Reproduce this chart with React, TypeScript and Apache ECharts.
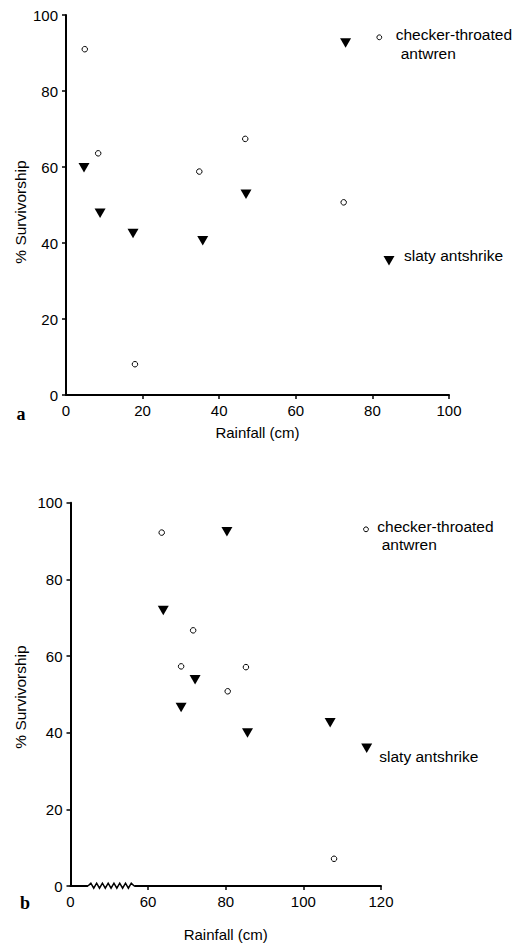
import React, { useEffect, useRef } from "react";
import * as echarts from "echarts";

// ---- data ----
const yTicks = [0, 20, 40, 60, 80, 100];
const xTicksA = [0, 20, 40, 60, 80, 100];
const xTicksB = [40, 60, 80, 100, 120]; // 40 is drawn as "0" across the axis break
const xTickLabelsB = ["0", "60", "80", "100", "120"];

const antwrenRainA = [4.9, 8.4, 18.0, 34.8, 46.8, 72.5];
const antwrenSurvA = [91.0, 63.6, 8.1, 58.8, 67.4, 50.7];
const antshrikeRainA = [4.7, 8.9, 17.5, 35.7, 47.0, 73.0];
const antshrikeSurvA = [59.8, 47.8, 42.5, 40.6, 52.8, 92.6];

const antwrenRainB = [63.5, 68.5, 71.6, 80.5, 85.2, 107.9];
const antwrenSurvB = [92.2, 57.3, 66.7, 50.8, 57.1, 7.1];
const antshrikeRainB = [63.9, 68.5, 72.1, 80.3, 85.6, 106.9];
const antshrikeSurvB = [71.9, 46.6, 53.8, 92.4, 39.9, 42.6];

const legendAntwren = ["checker-throated", "antwren"];
const legendAntshrike = "slaty antshrike";
const yTitle = "% Survivorship";
const xTitle = "Rainfall (cm)";

const FONT = '"Liberation Sans", Arial, sans-serif';
const INK = "#000";

const zip = (xs: number[], ys: number[]) => xs.map((x, i) => [x, ys[i]]);

export default function App() {
  const ref = useRef<HTMLDivElement>(null);

  useEffect(() => {
    if (!ref.current) return;
    const chart = echarts.init(ref.current, undefined, { renderer: "svg" });

    const axisLine = { show: true, lineStyle: { color: INK, width: 2 } };
    const axisTick = { show: true, length: 4, inside: false, lineStyle: { color: INK, width: 1.5 } };
    const axisLabel = { color: INK, fontFamily: FONT, fontSize: 15, margin: 8 };

    const yAxisBase = (gridIndex: number) => ({
      type: "value",
      gridIndex,
      min: yTicks[0],
      max: yTicks[yTicks.length - 1],
      interval: 20,
      splitLine: { show: false },
      axisLine,
      axisTick,
      axisLabel,
    });

    const circleStyle = {
      symbol: "circle",
      symbolSize: 5.5,
      itemStyle: { color: "#fff", borderColor: INK, borderWidth: 1, opacity: 1 },
    };
    const triStyle = {
      symbol: "triangle",
      symbolRotate: 180,
      symbolSize: [11, 9.5],
      itemStyle: { color: INK, opacity: 1 },
    };

    chart.setOption({
      animation: false,
      backgroundColor: "#fff",
      grid: [
        { left: 66, top: 15, width: 383, height: 380 },
        { left: 70.5, top: 502.7, width: 310.5, height: 384 },
      ],
      xAxis: [
        {
          type: "value",
          gridIndex: 0,
          min: xTicksA[0],
          max: xTicksA[xTicksA.length - 1],
          interval: 20,
          splitLine: { show: false },
          axisLine,
          axisTick: { ...axisTick, customValues: xTicksA.slice(1) },
          axisLabel,
          name: xTitle,
          nameLocation: "middle",
          nameGap: 30,
          nameTextStyle: { color: INK, fontFamily: FONT, fontSize: 15 },
        },
        {
          type: "value",
          gridIndex: 1,
          min: xTicksB[0],
          max: xTicksB[xTicksB.length - 1],
          interval: 20,
          splitLine: { show: false },
          axisLine,
          axisTick: { ...axisTick, customValues: xTicksB.slice(1) },
          axisLabel: {
            ...axisLabel,
            formatter: (v: number) => {
              const i = xTicksB.indexOf(v);
              return i >= 0 ? xTickLabelsB[i] : "";
            },
          },
          name: xTitle,
          nameLocation: "middle",
          nameGap: 41,
          nameTextStyle: { color: INK, fontFamily: FONT, fontSize: 15 },
        },
      ],
      yAxis: [yAxisBase(0), yAxisBase(1)],
      series: [
        { type: "scatter", name: "antwren a", xAxisIndex: 0, yAxisIndex: 0, data: zip(antwrenRainA, antwrenSurvA), ...circleStyle },
        { type: "scatter", name: "antshrike a", xAxisIndex: 0, yAxisIndex: 0, data: zip(antshrikeRainA, antshrikeSurvA), ...triStyle },
        { type: "scatter", name: "antwren b", xAxisIndex: 1, yAxisIndex: 1, data: zip(antwrenRainB, antwrenSurvB), ...circleStyle },
        { type: "scatter", name: "antshrike b", xAxisIndex: 1, yAxisIndex: 1, data: zip(antshrikeRainB, antshrikeSurvB), ...triStyle },
      ],
    });

    // axis break decoration on panel b's x axis
    const p0 = chart.convertToPixel({ xAxisIndex: 1, yAxisIndex: 1 }, [44.5, 0]) as number[];
    const p1 = chart.convertToPixel({ xAxisIndex: 1, yAxisIndex: 1 }, [56.4, 0]) as number[];
    const steps = 16;
    const zig: number[][] = [];
    for (let i = 0; i <= steps; i++) {
      const x = p0[0] + ((p1[0] - p0[0]) * i) / steps;
      const y = p0[1] + (i === 0 || i === steps ? 0 : i % 2 === 1 ? -2.8 : 2.2);
      zig.push([x, y]);
    }

    const txt = (text: string, x: number, y: number, extra: any = {}, el: any = {}) => ({
      type: "text",
      x,
      y,
      z: 100,
      ...el,
      style: { text, fill: INK, font: `15.5px ${FONT}`, verticalAlign: "middle", align: "left", ...extra },
    });
    const legCircle = (cx: number, cy: number) => ({
      type: "circle",
      z: 100,
      shape: { cx, cy, r: 2.4 },
      style: { fill: "#fff", stroke: INK, lineWidth: 1 },
    });
    const legTri = (cx: number, cy: number) => ({
      type: "polygon",
      z: 100,
      shape: { points: [[cx - 5.5, cy - 4.7], [cx + 5.5, cy - 4.7], [cx, cy + 4.7]] },
      style: { fill: INK },
    });

    chart.setOption({
      graphic: [
        { type: "rect", z: 100, shape: { x: p0[0], y: p0[1] - 2, width: p1[0] - p0[0], height: 4 }, style: { fill: "#fff" } },
        { type: "polyline", z: 101, shape: { points: zig }, style: { stroke: INK, lineWidth: 1.5, fill: null } },
        // y titles
        txt(yTitle, 20, 212, { align: "center", font: `15.5px ${FONT}` }, { rotation: Math.PI / 2 }),
        txt(yTitle, 20.5, 697, { align: "center", font: `15.5px ${FONT}` }, { rotation: Math.PI / 2 }),
        // panel a legend
        legCircle(379.3, 37.3),
        txt(legendAntwren[0], 395.7, 34),
        txt(legendAntwren[1], 400.7, 53),
        legTri(389, 260.7),
        txt(legendAntshrike, 404, 255),
        // panel b legend
        legCircle(366, 529.3),
        txt(legendAntwren[0], 377.3, 526),
        txt(legendAntwren[1], 381.7, 544),
        legTri(366.7, 748.3),
        txt(legendAntshrike, 379.3, 756),
        // panel letters
        txt("a", 21, 414, { font: 'bold 18px "Liberation Serif", serif', align: "center" }),
        txt("b", 25, 903, { font: 'bold 18px "Liberation Serif", serif', align: "center" }),
      ],
    });

    return () => chart.dispose();
  }, []);

  return (
    <div
      ref={ref}
      style={{ position: "fixed", left: 0, top: 0, width: 515, height: 943, background: "#fff" }}
    />
  );
}
